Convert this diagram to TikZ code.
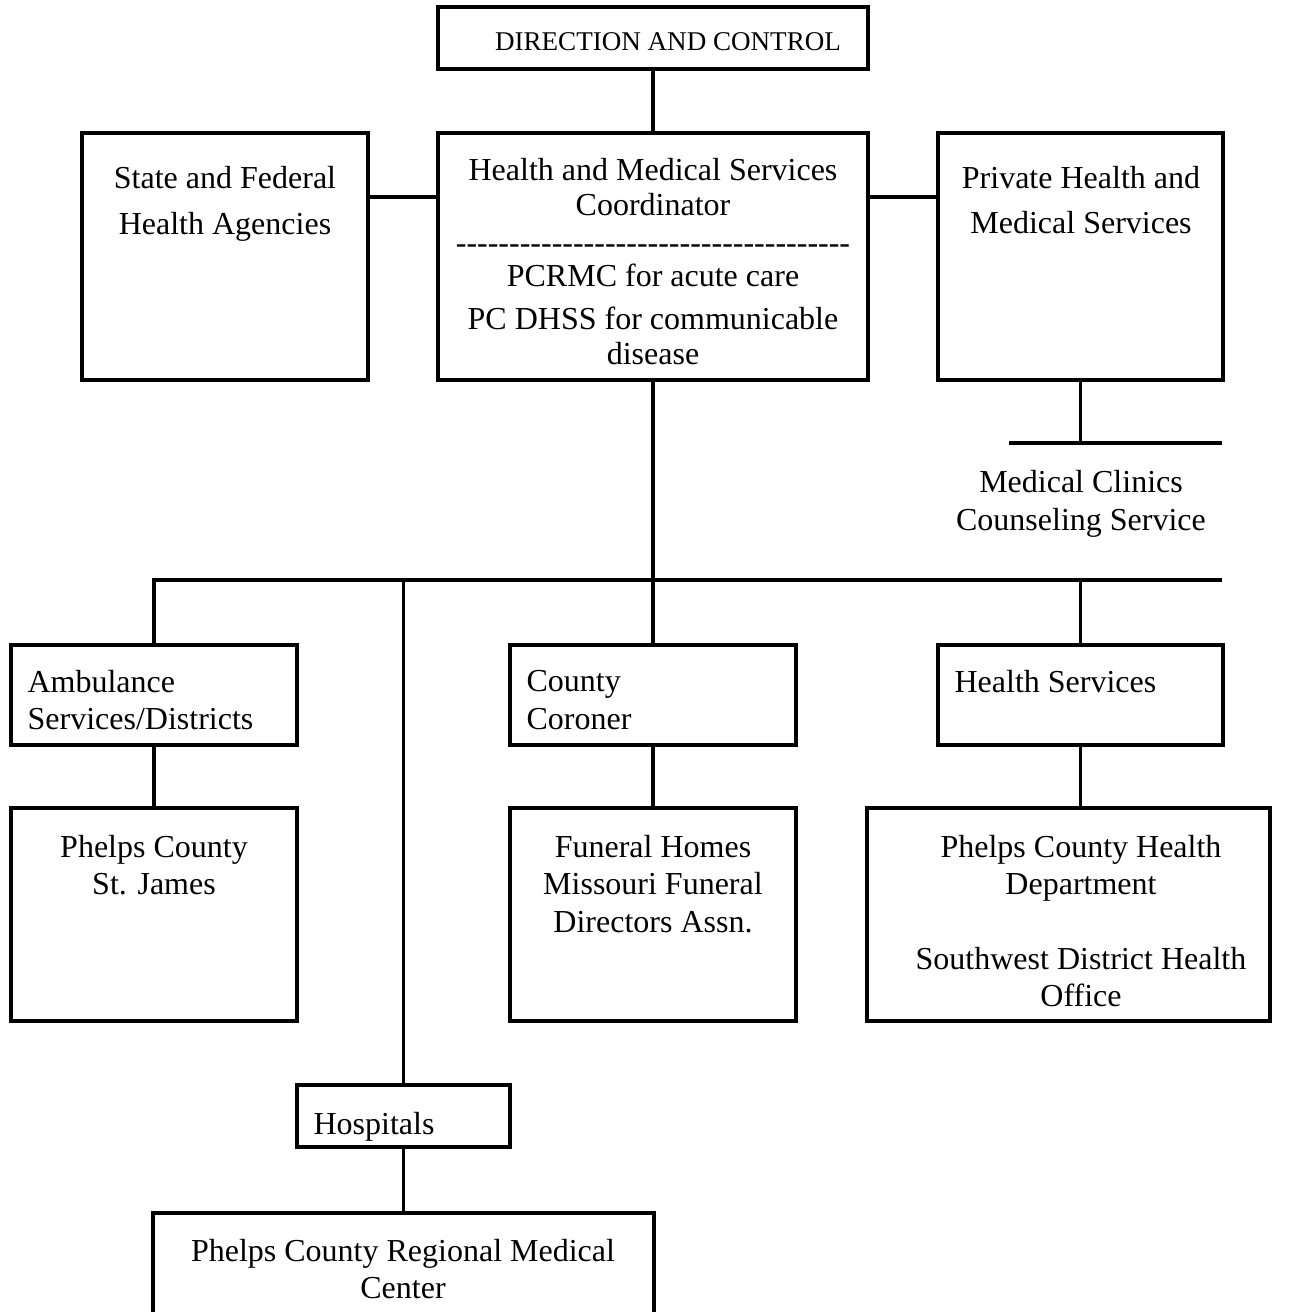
\documentclass[tikz,border=0pt]{standalone}
\usepackage{fontspec}
\setmainfont{Liberation Serif}
\usetikzlibrary{fit}
\def\hy{-\kern0pt}
\def\hyx{\hy\hy\hy\hy\hy\hy\hy\hy\hy\hy}
\begin{document}
\begin{tikzpicture}[x=0.75pt,y=-0.75pt,line width=2.4pt,
  box/.style={draw,line width=2.4pt,inner sep=0pt,fit={#1}},
  txt/.style={inner sep=0pt,align=center,font=\fontsize{24}{28}\selectfont},
  ltxt/.style={inner sep=0pt,align=left,anchor=west,font=\fontsize{24}{28}\selectfont}]
\useasboundingbox (0,0) rectangle (1301,1312);
\clip (0,0) rectangle (1301,1312);
% boxes
\node[box={(438,7) (868,69)}] (dac) {};
\node[box={(82,133) (368,380)}] (state) {};
\node[box={(438,133) (868,380)}] (hmsc) {};
\node[box={(938,133) (1223,380)}] (priv) {};
\node[box={(11,645) (297,745)}] (amb) {};
\node[box={(510,645) (796,745)}] (cor) {};
\node[box={(938,645) (1223,745)}] (hs) {};
\node[box={(11,808) (297,1021)}] (pcs) {};
\node[box={(510,808) (796,1021)}] (fun) {};
\node[box={(867,808) (1270,1021)}] (hd) {};
\node[box={(297,1085) (510,1147)}] (hosp) {};
\node[box={(153,1213) (654,1345)}] (pcrmc) {};
% texts
\node[txt,font=\fontsize{20.3}{24}\selectfont] (dac-t) at (668,42) {DIRECTION AND CONTROL};
\node[txt,font=\fontsize{24}{34}\selectfont] (state-t) at (225,204) {State and Federal\\Health Agencies};
\node[txt,font=\fontsize{24}{26}\selectfont] (hmsc-t1) at (653,187) {Health and Medical Services\\Coordinator};
\node[txt] (hmsc-dash) at (653,249) {\hyx\hyx\hyx\hy\hy\hy\hy\hy\hy\hy};
\node[txt] (hmsc-t2) at (653,275) {PCRMC for acute care};
\node[txt,font=\fontsize{24}{26}\selectfont] (hmsc-t3) at (653,336) {PC DHSS for communicable\\disease};
\node[txt,font=\fontsize{24}{34}\selectfont] (priv-t) at (1081,200) {Private Health and\\Medical Services};
\node[txt] (clin-t) at (1081,504) {Medical Clinics\\Counseling Service};
\node[ltxt] (amb-t) at (26,700) {Ambulance\\Services/Districts};
\node[ltxt] (cor-t) at (525,700) {County\\Coroner};
\node[ltxt] (hs-t) at (953,682) {Health Services};
\node[txt] (pcs-t) at (154,865) {Phelps County\\St. James};
\node[txt] (fun-t) at (653,884) {Funeral Homes\\Missouri Funeral\\Directors Assn.};
\node[txt] (hd-t1) at (1081,868) {Phelps County Health\\Department};
\node[txt] (hd-t2) at (1081,977) {Southwest District Health\\Office};
\node[ltxt] (hosp-t) at (312,1127) {Hospitals};
\node[txt] (pcrmc-t) at (403,1269) {Phelps County Regional Medical\\Center};
% coordinates
\coordinate (yA) at (0,197);
\coordinate (clinL) at (1009,443);
\coordinate (clinR) at (1222,443);
\coordinate (busR) at (1222,580);
% connectors
\draw (dac.south) -- (hmsc.north);
\draw (state.east |- yA) -- (hmsc.west |- yA);
\draw (hmsc.east |- yA) -- (priv.west |- yA);
\draw (priv.south) -- (priv.south |- clinL);
\draw (clinL) -- (clinR);
\draw (hmsc.south) -- (hmsc.south |- busR);
\draw (amb.north) -- (amb.north |- busR) -- (busR);
\draw (hosp.north) -- (hosp.north |- busR);
\draw (cor.north) -- (cor.north |- busR);
\draw (hs.north) -- (hs.north |- busR);
\draw (amb.south) -- (pcs.north);
\draw (cor.south) -- (fun.north);
\draw (hs.south) -- (hs.south |- hd.north);
\draw (hosp.south) -- (pcrmc.north);
\end{tikzpicture}
\end{document}
